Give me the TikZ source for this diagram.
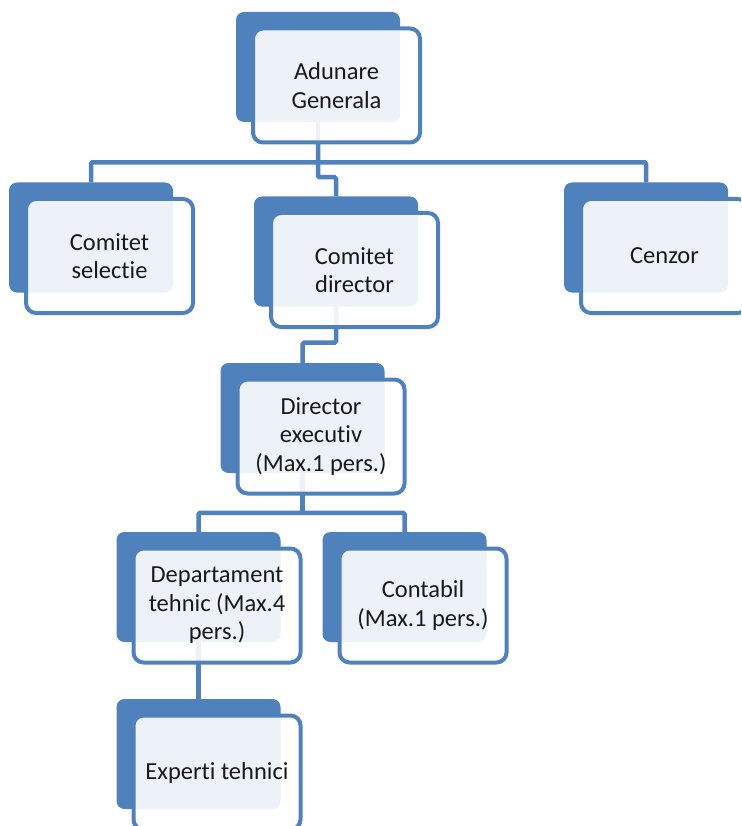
\documentclass[tikz,border=0pt]{standalone}
\usepackage{fontspec}
\setmainfont{Carlito}[Ligatures=NoCommon]
\definecolor{boxblue}{HTML}{4F81BD}
\tikzset{
	back/.style={fill=boxblue,rounded corners=8pt,minimum width=164pt,minimum height=110pt,inner sep=0pt},
	front/.style={draw=boxblue,line width=4pt,fill=white,fill opacity=.9,text opacity=1,rounded corners=10pt,minimum width=167pt,minimum height=114pt,inner sep=0pt,align=center,text=black!90,font=\fontsize{24.5}{28.5}\selectfont},
	link/.style={draw=boxblue,line width=4.5pt,rounded corners=1.5pt}
}
\begin{document}
\begin{tikzpicture}[x=1pt,y=-1pt]
		\useasboundingbox(0,0)rectangle(741,826);
		\clip(0,0)rectangle(741,826);
		% back boxes
		\foreach\n/\p in{gen/{(318,67)},sel/{(91,237.5)},dir/{(336,251.5)},cen/{(646,237.5)},exe/{(302.5,418)},dep/{(198.5,587)},con/{(404.5,587)},exp/{(198.5,754)}}{\node[back](\n)at\p{};}
		% links
		\draw[link](sel.north)--++(0,-20)-|(cen.north);
		\draw[link](gen.south)--++(0,55)-|(dir.north);
		\draw[link](dir.south)--++(0,36)-|(exe.north);
		\draw[link](dep.north)--++(0,-19)-|(con.north);
		\draw[link](exe.south)--++(0,40);
		\draw[link](dep.south)--(exp.north);
		% front boxes
		\node[front](gen-f)at([shift={(18.5,18.5)}]gen){Adunare\\Generala};
		\node[front](sel-f)at([shift={(18.5,18.5)}]sel){Comitet\\selectie};
		\node[front](dir-f)at([shift={(18.5,18.5)}]dir){Comitet\\director};
		\node[front](cen-f)at([shift={(18.5,18.5)}]cen){Cenzor};
		\node[front](exe-f)at([shift={(18.5,18.5)}]exe){Director\\executiv\\(Max.1 pers.)};
		\node[front](dep-f)at([shift={(18.5,18.5)}]dep){Departament\\tehnic (Max.4\\pers.)};
		\node[front](con-f)at([shift={(18.5,18.5)}]con){Contabil\\(Max.1 pers.)};
		\node[front](exp-f)at([shift={(18.5,18.5)}]exp){Experti tehnici};
		\end{tikzpicture}
\end{document}
